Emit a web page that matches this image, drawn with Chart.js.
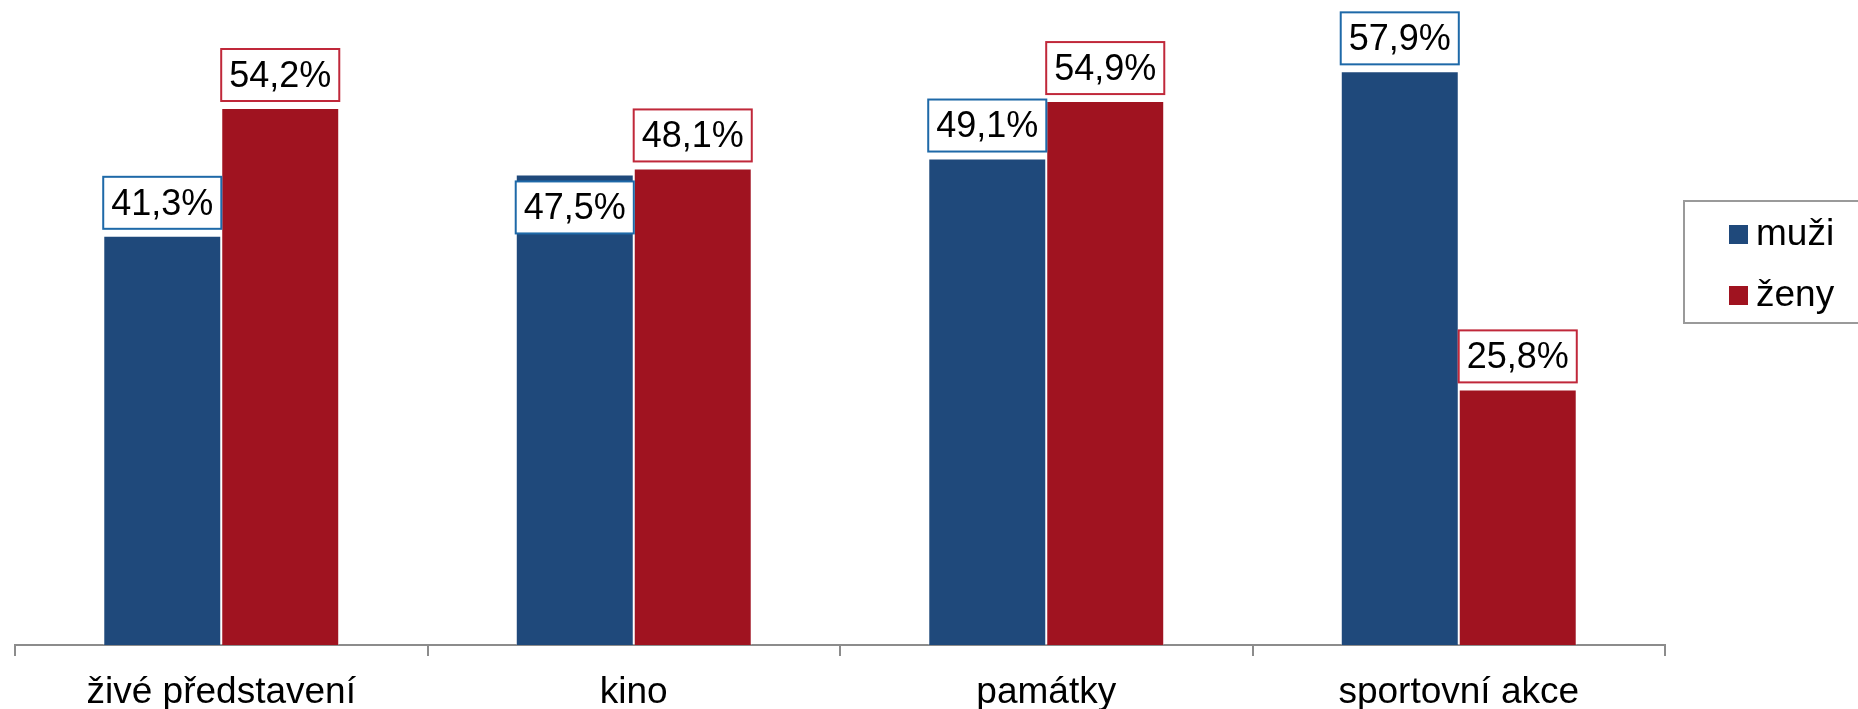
<!DOCTYPE html>
<html lang="cs">
<head>
<meta charset="utf-8">
<title>Návštěvnost podle pohlaví</title>
<script src="https://cdn.jsdelivr.net/npm/chart.js@4/dist/chart.umd.min.js"></script>
<style>
    html, body { margin: 0; padding: 0; background: #ffffff; }
    #chart { display: block; }
</style>
</head>
<body>
<canvas id="chart" width="1858" height="709"></canvas>
<script>
const categories = ['živé představení', 'kino', 'památky', 'sportovní akce'];
const seriesNames = ['muži', 'ženy'];
const valuesMen = [41.3, 47.5, 49.1, 57.9];
const valuesWomen = [54.2, 48.1, 54.9, 25.8];

const FONT = "'Liberation Sans', Arial, sans-serif";
const barColors = ['#1f497b', '#a01320'];
const boxBorders = ['#1e69a8', '#c0283a'];

const fmt = v => v.toFixed(1).replace('.', ',') + '%';

// popisky hodnot v rámečku nad sloupci (Excel styl)
const valueBoxes = {
    id: 'valueBoxes',
    afterDatasetsDraw(chart) {
        const ctx = chart.ctx;
        const fontSize = 36, padX = 8, boxH = 52, gap = 7;
        ctx.save();
        ctx.font = fontSize + 'px ' + FONT;
        const boxes = chart.data.datasets.map((ds, di) => {
            const meta = chart.getDatasetMeta(di);
            return meta.data.map((bar, i) => {
                const text = fmt(ds.data[i]);
                const w = ctx.measureText(text).width + padX * 2;
                return { text, w, x: bar.x - w / 2, y: bar.y - gap - boxH, di };
            });
        });
        // jednoduché vyhýbání kolizím: rámeček mužů posunout pod rámeček žen
        for (let i = 0; i < categories.length; i++) {
            const a = boxes[0][i], b = boxes[1][i];
            const overlapX = a.x + a.w > b.x - 10 && b.x + b.w > a.x - 10;
            const overlapY = a.y < b.y + boxH && b.y < a.y + boxH;
            if (overlapX && overlapY) a.y = b.y + boxH + 20;
        }
        boxes.flat().forEach(b => {
            ctx.fillStyle = '#ffffff';
            ctx.fillRect(b.x, b.y, b.w, boxH);
            ctx.strokeStyle = boxBorders[b.di];
            ctx.lineWidth = 2;
            ctx.strokeRect(b.x, b.y, b.w, boxH);
            ctx.fillStyle = '#000000';
            ctx.textAlign = 'center';
            ctx.textBaseline = 'middle';
            ctx.fillText(b.text, b.x + b.w / 2, b.y + boxH / 2 + 2);
        });
        ctx.restore();
    }
};

// legenda v rámečku vpravo
const sideLegend = {
    id: 'sideLegend',
    afterDraw(chart) {
        const ctx = chart.ctx;
        ctx.save();
        ctx.strokeStyle = '#9a9a9a';
        ctx.lineWidth = 2;
        ctx.strokeRect(1684, 201, 200, 122);
        ctx.font = '37px ' + FONT;
        ctx.textBaseline = 'middle';
        chart.data.datasets.forEach((ds, i) => {
            const cy = 234 + i * 61;
            ctx.fillStyle = ds.backgroundColor;
            ctx.fillRect(1729, cy - 9, 19, 19);
            ctx.fillStyle = '#000000';
            ctx.fillText(ds.label, 1756, cy + 1);
        });
        ctx.restore();
    }
};

new Chart(document.getElementById('chart'), {
    type: 'bar',
    data: {
        labels: categories,
        datasets: [
            { label: seriesNames[0], data: valuesMen, backgroundColor: barColors[0], borderColor: 'rgba(255,255,255,0.35)', borderWidth: 1 },
            { label: seriesNames[1], data: valuesWomen, backgroundColor: barColors[1], borderColor: 'rgba(255,255,255,0.35)', borderWidth: 1 }
        ]
    },
    options: {
        responsive: false,
        devicePixelRatio: 1,
        animation: false,
        layout: { padding: { left: 15, right: 193, top: 1, bottom: 0 } },
        datasets: { bar: { categoryPercentage: 0.572, barPercentage: 1.0 } },
        plugins: { legend: { display: false }, tooltip: { enabled: false } },
        scales: {
            x: {
                grid: { display: true, drawOnChartArea: false, offset: true, tickLength: 11, color: '#8c8c8c', lineWidth: 2 },
                border: { display: true, color: '#8c8c8c', width: 2 },
                ticks: { color: '#000000', font: { family: FONT, size: 37 }, padding: 15, maxRotation: 0 },
                afterFit(scale) { scale.height = 64; }
            },
            y: { display: false, min: 0, max: 65 }
        }
    },
    plugins: [valueBoxes, sideLegend]
});
</script>
</body>
</html>
